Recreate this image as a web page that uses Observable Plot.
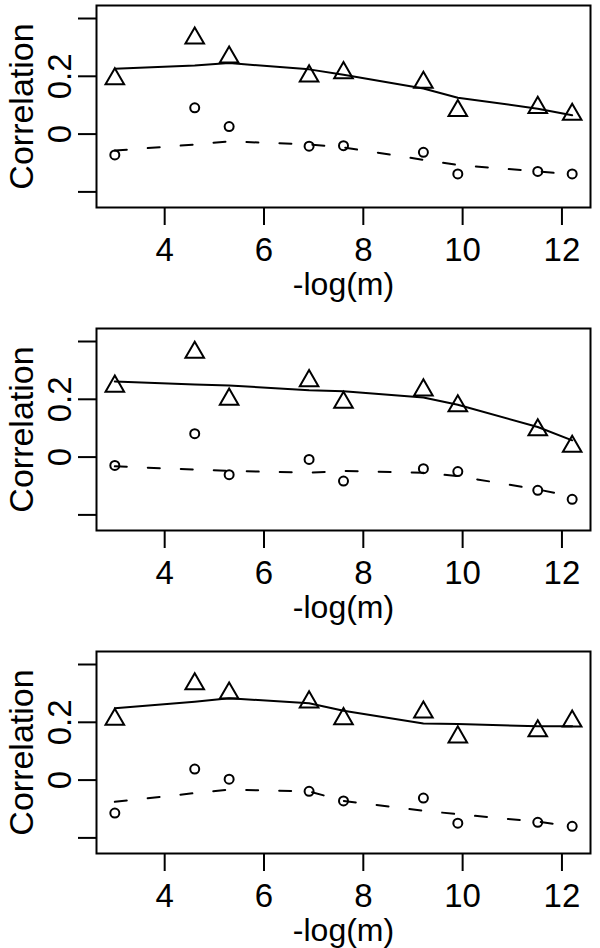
<!DOCTYPE html>
<html>
<head>
<meta charset="utf-8">
<script src="https://cdn.jsdelivr.net/npm/d3@7"></script>
<script src="https://cdn.jsdelivr.net/npm/@observablehq/plot@0.6"></script>
<style>
  html, body { margin: 0; padding: 0; background: #fff; overflow: hidden; }
  #chart svg { display: block; }
</style>
</head>
<body>
<div id="chart"></div>
<script>
// -log(m) values
const xVals = [2.996, 4.605, 5.298, 6.908, 7.601, 9.210, 9.903, 11.513, 12.206];
const xTicks = [4, 6, 8, 10, 12];
const yTicks = [-0.2, 0, 0.2, 0.4];
const yTickLabels = ["", "0", "0.2", ""];
const xLabel = "-log(m)";
const yLabel = "Correlation";

// Panel 1
const p1Tri = [0.191, 0.332, 0.266, 0.201, 0.212, 0.179, 0.081, 0.092, 0.068];
const p1TriFit = [0.226, 0.237, 0.246, 0.224, 0.205, 0.158, 0.126, 0.088, 0.065];
const p1Circ = [-0.072, 0.091, 0.026, -0.042, -0.040, -0.063, -0.138, -0.129, -0.138];
const p1CircFit = [-0.057, -0.036, -0.025, -0.036, -0.046, -0.089, -0.107, -0.129, -0.140];

// Panel 2
const p2Tri = [0.245, 0.362, 0.200, 0.264, 0.189, 0.232, 0.177, 0.094, 0.037];
const p2TriFit = [0.262, 0.251, 0.248, 0.231, 0.228, 0.206, 0.181, 0.104, 0.058];
const p2Circ = [-0.029, 0.081, -0.061, -0.008, -0.083, -0.040, -0.050, -0.115, -0.146];
const p2CircFit = [-0.032, -0.043, -0.048, -0.054, -0.048, -0.054, -0.066, -0.112, -0.136];

// Panel 3
const p3Tri = [0.210, 0.333, 0.301, 0.270, 0.212, 0.235, 0.149, 0.170, 0.204];
const p3TriFit = [0.249, 0.271, 0.283, 0.266, 0.240, 0.196, 0.194, 0.186, 0.186];
const p3Circ = [-0.114, 0.038, 0.003, -0.039, -0.072, -0.062, -0.149, -0.146, -0.160];
const p3CircFit = [-0.075, -0.045, -0.033, -0.039, -0.072, -0.106, -0.118, -0.144, -0.160];

const panels = [
  {tri: p1Tri, triFit: p1TriFit, circ: p1Circ, circFit: p1CircFit, height: 323},
  {tri: p2Tri, triFit: p2TriFit, circ: p2Circ, circFit: p2CircFit, height: 323},
  {tri: p3Tri, triFit: p3TriFit, circ: p3Circ, circFit: p3CircFit, height: 302}
];

const FONT = "'Liberation Sans', Arial, Helvetica, sans-serif";
const FS = 32;

const chart = document.getElementById("chart");

for (const p of panels) {
  const pts = (ys) => xVals.map((x, i) => ({x, y: ys[i]}));
  const boxTop = 5, boxBottom = 207;
  const plot = Plot.plot({
    width: 600,
    height: p.height,
    marginTop: boxTop,
    marginBottom: p.height - boxBottom,
    marginLeft: 96,
    marginRight: 10,
    style: {fontFamily: FONT, background: "#fff", color: "#000"},
    x: {domain: [2.627, 12.575], axis: null},
    y: {domain: [-0.254, 0.445], axis: null},
    marks: [
      Plot.axisX({ticks: xTicks, tickSize: 18, tickFormat: () => "", label: null, stroke: "#000", strokeWidth: 2}),
      Plot.axisY({ticks: yTicks, tickSize: 18, tickFormat: () => "", label: null, stroke: "#000", strokeWidth: 2}),
      Plot.text(xTicks, {x: d => d, text: d => String(d), frameAnchor: "bottom", dy: 43, fontSize: 33, lineAnchor: "middle", textAnchor: "middle", fill: "#000"}),
      Plot.text(yTicks, {y: d => d, text: (d, i) => yTickLabels[i], frameAnchor: "left", dx: -36, rotate: -90, fontSize: 33, lineAnchor: "middle", textAnchor: "middle", fill: "#000"}),
      Plot.text([yLabel], {text: d => d, frameAnchor: "left", dx: -74, rotate: -90, fontSize: 34, lineAnchor: "middle", textAnchor: "middle", fill: "#000"}),
      Plot.text([xLabel], {text: d => d, frameAnchor: "bottom", dy: 77, fontSize: FS, lineAnchor: "middle", textAnchor: "middle", fill: "#000"}),
      Plot.line(pts(p.triFit), {x: "x", y: "y", stroke: "#000", strokeWidth: 2}),
      Plot.line(pts(p.circFit), {x: "x", y: "y", stroke: "#000", strokeWidth: 2, strokeDasharray: "12,21"}),
      Plot.dot(pts(p.tri), {x: "x", y: "y", symbol: "triangle", r: 6.9, stroke: "#000", fill: "none", strokeWidth: 2}),
      Plot.dot(pts(p.circ), {x: "x", y: "y", symbol: "circle", r: 4.5, stroke: "#000", fill: "none", strokeWidth: 2}),
      Plot.frame({stroke: "#000", strokeWidth: 2})
    ]
  });
  chart.appendChild(plot);
}
</script>
</body>
</html>
